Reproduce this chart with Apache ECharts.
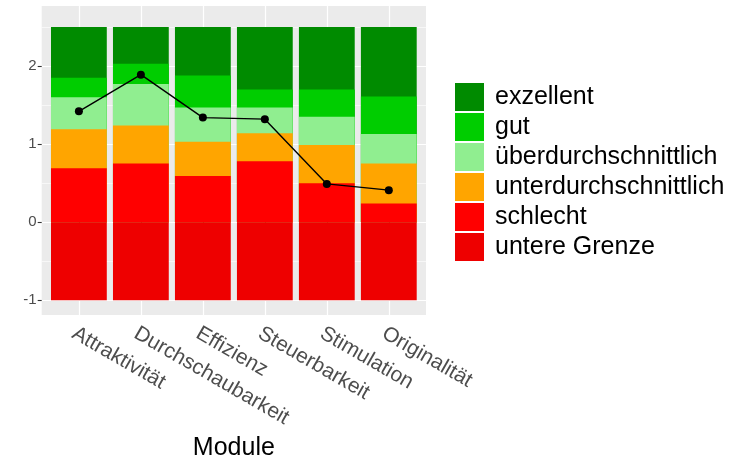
<!DOCTYPE html>
<html>
<head>
<meta charset="utf-8">
<script src="https://cdn.jsdelivr.net/npm/echarts@6/dist/echarts.min.js"></script>
<style>
html,body{margin:0;padding:0;background:#ffffff;}
#chart{width:737px;height:458px;}
</style>
</head>
<body>
<div id="chart"></div>
<script>
// ---- data ----
const categories = ['Attraktivität','Durchschaubarkeit','Effizienz','Steuerbarkeit','Stimulation','Originalität'];
// upper boundary of each benchmark band (bars start at 0; "untere Grenze" goes down to -1)
const untereGrenze          = [-1, -1, -1, -1, -1, -1];
const schlecht              = [0.69, 0.75, 0.59, 0.78, 0.50, 0.24];
const unterdurchschnittlich = [1.19, 1.24, 1.03, 1.14, 0.99, 0.75];
const ueberdurchschnittlich = [1.60, 1.77, 1.47, 1.47, 1.35, 1.13];
const gut                   = [1.85, 2.03, 1.88, 1.70, 1.70, 1.61];
const exzellent             = [2.5, 2.5, 2.5, 2.5, 2.5, 2.5];
// observed scale means
const means = [1.42, 1.89, 1.34, 1.32, 0.49, 0.41];
// axis ticks
const yTicks = [-1, 0, 1, 2];
const yMinorBreaks = [-0.5, 0.5, 1.5, 2.5];
const legendNames = ['exzellent','gut','überdurchschnittlich','unterdurchschnittlich','schlecht','untere Grenze'];

const colors = {
  'exzellent': '#008B00',
  'gut': '#00CD00',
  'überdurchschnittlich': '#90EE90',
  'unterdurchschnittlich': '#FFA500',
  'schlecht': '#FF0000',
  'untere Grenze': '#EE0000'
};
const bands = {
  'exzellent': exzellent,
  'gut': gut,
  'überdurchschnittlich': ueberdurchschnittlich,
  'unterdurchschnittlich': unterdurchschnittlich,
  'schlecht': schlecht,
  'untere Grenze': untereGrenze
};
const xPos = categories.map((c, i) => i + 1);
const FONT = '"Liberation Sans", Arial, Helvetica, sans-serif';

const barSeries = legendNames.map((name, k) => ({
  name: name,
  type: 'bar',
  data: xPos.map((x, i) => [x, bands[name][i]]),
  barWidth: 55.8,
  barGap: '-100%',
  itemStyle: { color: colors[name] },
  emphasis: { disabled: true },
  animation: false,
  z: 2,
  markLine: k === 0 ? {
    silent: true,
    symbol: 'none',
    z: 1,
    animation: false,
    label: { show: false },
    lineStyle: { color: '#ffffff', width: 0.6, type: 'solid' },
    emphasis: { disabled: true },
    data: yMinorBreaks.map(v => ({ yAxis: v }))
  } : undefined
}));

const chart = echarts.init(document.getElementById('chart'), null, { renderer: 'canvas' });
chart.setOption({
  backgroundColor: '#ffffff',
  animation: false,
  textStyle: { fontFamily: FONT },
  grid: {
    left: 41.7, right: 311, top: 6, bottom: 143,
    containLabel: false,
    outerBoundsMode: 'none',
    show: true, backgroundColor: '#EBEBEB', borderWidth: 0
  },
  legend: {
    orient: 'vertical',
    left: 455, top: 83,
    padding: 0,
    itemWidth: 29, itemHeight: 28, itemGap: 2,
    icon: 'rect',
    data: legendNames,
    selectedMode: false,
    textStyle: { fontSize: 25, color: '#000000', fontFamily: FONT, padding: [0, 0, 0, 6] }
  },
  xAxis: {
    type: 'value',
    min: 0.4, max: 6.6,
    name: 'Module',
    nameLocation: 'middle',
    nameGap: 119,
    nameTextStyle: { fontSize: 25, color: '#000000', fontFamily: FONT },
    axisLine: { show: false },
    axisTick: { show: true, length: 4, lineStyle: { color: '#333333', width: 1.1 }, customValues: xPos },
    axisLabel: {
      customValues: xPos,
      rotate: -30,
      margin: 8,
      verticalAlign: 'top',
      fontSize: 21,
      color: '#4D4D4D',
      fontFamily: FONT,
      formatter: v => (Number.isInteger(v) && v >= 1 && v <= categories.length) ? categories[v - 1] : ''
    },
    splitLine: { show: true, lineStyle: { color: '#ffffff', width: 1.2 } }
  },
  yAxis: {
    type: 'value',
    min: -1.19, max: 2.77,
    axisLine: { show: false },
    axisTick: { show: true, length: 4, lineStyle: { color: '#333333', width: 1.1 }, customValues: yTicks },
    axisLabel: {
      customValues: yTicks,
      margin: 5,
      fontSize: 15,
      color: '#4D4D4D',
      fontFamily: FONT,
      formatter: v => (yTicks.indexOf(v) >= 0 ? String(v) : '')
    },
    splitLine: { show: true, lineStyle: { color: '#ffffff', width: 1.2 } }
  },
  series: barSeries.concat([{
    name: 'Mittelwert',
    type: 'line',
    data: xPos.map((x, i) => [x, means[i]]),
    symbol: 'circle',
    symbolSize: 8,
    lineStyle: { color: '#000000', width: 1.4 },
    itemStyle: { color: '#000000' },
    emphasis: { disabled: true },
    z: 5,
    animation: false
  }])
});
</script>
</body>
</html>
